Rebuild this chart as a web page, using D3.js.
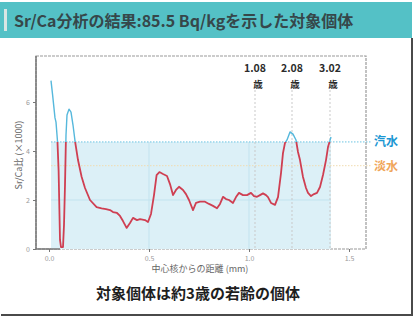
<!DOCTYPE html>
<html>
<head>
<meta charset="utf-8">
<script src="https://cdn.jsdelivr.net/npm/d3@7"></script>
<style>
  html, body { margin: 0; padding: 0; background: #fff; }
  svg { display: block; }
</style>
</head>
<body>
<svg id="chart" width="420" height="320"></svg>
<script>
// Sr/Ca profile from the otolith core outward
const distance = [0.010,0.018,0.030,0.035,0.042,0.048,0.052,0.055,0.060,0.070,0.075,0.080,0.085,0.090,0.100,0.110,0.120,0.130,0.145,0.163,0.180,0.205,0.238,0.263,0.285,0.305,0.320,0.340,0.355,0.370,0.388,0.405,0.420,0.440,0.455,0.480,0.495,0.510,0.525,0.538,0.552,0.570,0.590,0.605,0.620,0.635,0.650,0.670,0.685,0.700,0.720,0.735,0.755,0.780,0.800,0.820,0.840,0.855,0.870,0.885,0.900,0.920,0.935,0.950,0.970,0.990,1.010,1.025,1.040,1.055,1.070,1.085,1.095,1.110,1.130,1.145,1.160,1.170,1.180,1.190,1.205,1.220,1.235,1.245,1.255,1.270,1.285,1.295,1.310,1.325,1.340,1.355,1.370,1.385,1.395,1.410];
const srca = [6.87,6.29,5.35,5.18,4.45,3.22,1.59,0.37,0.08,0.08,0.98,2.61,4.65,5.47,5.71,5.59,5.06,4.41,3.63,2.95,2.49,2.00,1.71,1.66,1.63,1.59,1.51,1.47,1.35,1.14,0.86,1.06,1.27,1.18,1.22,1.18,1.10,1.43,2.20,3.02,3.14,3.06,2.98,2.65,2.20,2.41,2.54,2.41,2.24,2.00,1.59,1.88,1.93,1.93,1.84,1.76,1.66,1.84,2.13,2.04,2.00,1.88,2.12,2.29,2.20,2.20,2.29,2.16,2.13,2.20,2.27,2.20,2.12,1.88,1.80,2.12,3.10,3.92,4.33,4.45,4.78,4.69,4.45,3.96,3.63,2.94,2.49,2.29,2.16,2.24,2.29,2.53,3.02,3.63,4.16,4.57];

const xTicks = [0, 0.5, 1.0, 1.5];
const xTickLabels = ["0.0", "0.5", "1.0", "1.5"];
const yTicks = [0, 2, 4, 6];

// Age marks (years) and their distance from the core
const ageLabels = ["1.08", "2.08", "3.02"];
const ageDistance = [1.03, 1.215, 1.405];

// Habitat thresholds
const brackishLevel = 4.37;   // 汽水
const freshLevel = 3.40;      // 淡水

const titleText = "Sr/Ca分析の結果:85.5 Bq/kgを示した対象個体";
const captionText = "対象個体は約3歳の若齢の個体";
const xAxisTitle = "中心核からの距離 (mm)";
const yAxisTitle = "Sr/Ca比 (×1000)";

const svg = d3.select("#chart");
const font = "'Noto Sans CJK JP', 'Noto Sans', sans-serif";

// Plot frame
const frame = { left: 36, right: 366, top: 56, bottom: 249 };
const x = d3.scaleLinear().domain([0, 1.5]).range([49, 349]);
const y = d3.scaleLinear().domain([0, 6]).range([249, 102]);

// Header bar
svg.append("rect").attr("x", 0).attr("y", 2).attr("width", 412).attr("height", 36)
  .attr("fill", "#54c1c6");
svg.append("rect").attr("x", 4).attr("y", 9).attr("width", 3).attr("height", 22)
  .attr("fill", "#d8e6e4");
svg.append("text").attr("x", 14).attr("y", 27)
  .attr("font-family", font).attr("font-size", 16).attr("font-weight", "bold")
  .attr("fill", "#36474a").text(titleText);

// Outer panel border
svg.append("path").attr("d", "M412,38 V315 H1")
  .attr("fill", "none").attr("stroke", "#4a4a4a").attr("stroke-width", 2);

// Plot frame
svg.append("rect")
  .attr("x", frame.left).attr("y", frame.top)
  .attr("width", frame.right - frame.left).attr("height", frame.bottom - frame.top)
  .attr("fill", "none").attr("stroke", "#9a9a9a").attr("stroke-width", 1.2)
  .attr("stroke-dasharray", "3,1");

// Brackish-water band across the measured range
const x0 = d3.min(distance), x1 = d3.max(distance);
svg.append("rect")
  .attr("x", x(x0)).attr("y", y(brackishLevel))
  .attr("width", x(x1) - x(x0)).attr("height", y(0) - y(brackishLevel))
  .attr("fill", "#dcf0f7");

// Faint grid inside the band
const grid = svg.append("g").attr("stroke", "#c2e3ef").attr("stroke-width", 1);
[2].forEach(v => grid.append("line")
  .attr("x1", x(x0)).attr("x2", x(x1)).attr("y1", y(v)).attr("y2", y(v)));
[0.5, 1.0].forEach(v => grid.append("line")
  .attr("x1", x(v)).attr("x2", x(v)).attr("y1", y(brackishLevel)).attr("y2", y(0)));

// Threshold lines
svg.append("line")
  .attr("x1", x(x0)).attr("x2", 372).attr("y1", y(brackishLevel)).attr("y2", y(brackishLevel))
  .attr("stroke", "#6cc4e2").attr("stroke-width", 1).attr("stroke-dasharray", "1.5,1.5");
svg.append("line")
  .attr("x1", x(x0)).attr("x2", 372).attr("y1", y(freshLevel)).attr("y2", y(freshLevel))
  .attr("stroke", "#f1dcb0").attr("stroke-width", 1).attr("stroke-dasharray", "1.5,1.5");

// Age marker lines and labels
ageDistance.forEach((d, i) => {
  svg.append("line")
    .attr("x1", x(d)).attr("x2", x(d)).attr("y1", 90).attr("y2", y(0))
    .attr("stroke", "#c9c9c9").attr("stroke-width", 1).attr("stroke-dasharray", "2,2");
  svg.append("text").attr("x", x(d)).attr("y", 72)
    .attr("text-anchor", "middle").attr("font-family", font)
    .attr("font-size", 10.5).attr("font-weight", "bold").attr("fill", "#2b2b2b")
    .text(ageLabels[i]);
  svg.append("text").attr("x", x(d) + 3).attr("y", 88)
    .attr("text-anchor", "middle").attr("font-family", font)
    .attr("font-size", 9.5).attr("font-weight", "bold").attr("fill", "#2b2b2b")
    .text("歳");
});

// Axes
const xAxis = svg.append("g").attr("transform", `translate(0,${frame.bottom})`)
  .call(d3.axisBottom(x).tickValues(xTicks).tickFormat((d, i) => xTickLabels[i]).tickSize(3));
xAxis.select(".domain").remove();
xAxis.selectAll("line").attr("stroke", "#777");
xAxis.selectAll("text").attr("font-family", font).attr("font-size", 7).attr("fill", "#999").attr("dy", "0.9em");

const yAxis = svg.append("g").attr("transform", `translate(${frame.left},0)`)
  .call(d3.axisLeft(y).tickValues(yTicks).tickFormat(d3.format("d")).tickSize(3));
yAxis.select(".domain").remove();
yAxis.selectAll("line").attr("stroke", "#777");
yAxis.selectAll("text").attr("font-family", font).attr("font-size", 7).attr("fill", "#999");

svg.append("line").attr("x1", frame.left).attr("x2", frame.left)
  .attr("y1", frame.top).attr("y2", frame.bottom).attr("stroke", "#777").attr("stroke-width", 1.5);
svg.append("line").attr("x1", frame.left).attr("x2", 60)
  .attr("y1", frame.bottom).attr("y2", frame.bottom).attr("stroke", "#777").attr("stroke-width", 1.5);

// Axis titles
svg.append("text").attr("x", 200).attr("y", 272).attr("text-anchor", "middle")
  .attr("font-family", font).attr("font-size", 9).attr("fill", "#666").text(xAxisTitle);
svg.append("text")
  .attr("transform", `translate(22,${155}) rotate(-90)`)
  .attr("text-anchor", "middle").attr("font-family", font)
  .attr("font-size", 9).attr("fill", "#666").text(yAxisTitle);

// Profile line: blue above the brackish threshold, red below
const points = distance.map((d, i) => [d, srca[i]]);
const line = d3.line().x(d => x(d[0])).y(d => y(d[1]));
const defs = svg.append("defs");
defs.append("clipPath").attr("id", "above")
  .append("rect").attr("x", 0).attr("y", 0).attr("width", 420).attr("height", y(brackishLevel));
defs.append("clipPath").attr("id", "below")
  .append("rect").attr("x", 0).attr("y", y(brackishLevel)).attr("width", 420).attr("height", 320);

svg.append("path").datum(points).attr("d", line).attr("clip-path", "url(#above)")
  .attr("fill", "none").attr("stroke", "#56b8dc").attr("stroke-width", 1.4)
  .attr("stroke-linejoin", "round");
svg.append("path").datum(points).attr("d", line).attr("clip-path", "url(#below)")
  .attr("fill", "none").attr("stroke", "#cf3f52").attr("stroke-width", 1.8)
  .attr("stroke-linejoin", "round");

// Habitat labels
svg.append("text").attr("x", 374).attr("y", y(brackishLevel) + 4)
  .attr("font-family", font).attr("font-size", 12).attr("font-weight", "bold")
  .attr("fill", "#1b97d3").text("汽水");
svg.append("text").attr("x", 374).attr("y", y(freshLevel) + 5)
  .attr("font-family", font).attr("font-size", 12).attr("font-weight", "bold")
  .attr("fill", "#f0a65a").text("淡水");

// Caption
svg.append("text").attr("x", 198).attr("y", 299).attr("text-anchor", "middle")
  .attr("font-family", font).attr("font-size", 15).attr("font-weight", "bold")
  .attr("fill", "#1e1e1e").text(captionText);
</script>
</body>
</html>
